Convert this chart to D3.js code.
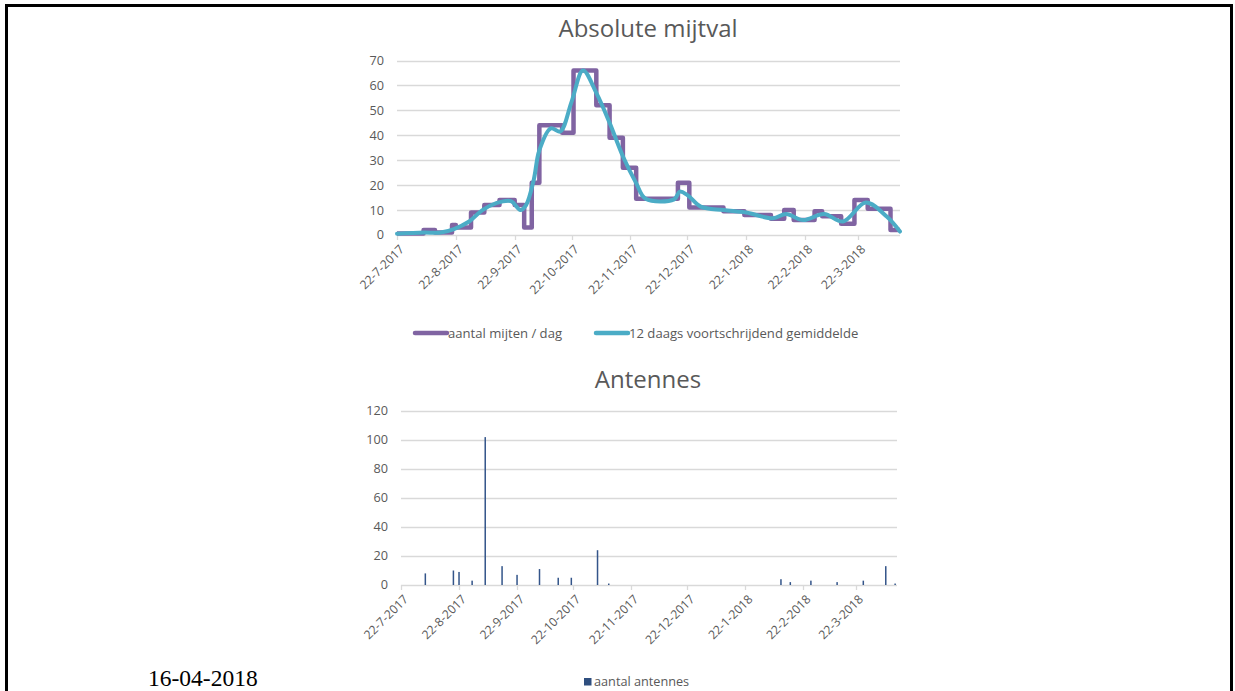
<!DOCTYPE html>
<html>
<head>
<meta charset="utf-8">
<script src="https://cdn.jsdelivr.net/npm/d3@7"></script>
<style>
	body { margin: 0; background: #fff; }
	svg { display: block; font-family: "Open Sans", Lato, sans-serif; }
</style>
</head>
<body>
<svg id="chart" width="1235" height="691"></svg>
<script>
// x-axis tick labels (shared by both charts)
const tickLabels = [ '22-7-2017', '22-8-2017', '22-9-2017', '22-10-2017', '22-11-2017', '22-12-2017', '22-1-2018', '22-2-2018', '22-3-2018' ];
const startDate = '2017-07-22',
	endDate = '2018-04-13';

// aantal mijten / dag : start date of each step and its value
const mijtDates = [ '2017-07-22', '2017-08-05', '2017-08-11', '2017-08-20', '2017-08-22', '2017-08-30', '2017-09-06', '2017-09-14', '2017-09-22', '2017-09-27', '2017-10-01', '2017-10-05', '2017-10-17', '2017-10-23', '2017-11-04', '2017-11-11', '2017-11-18', '2017-11-25', '2017-12-17', '2017-12-23', '2018-01-10', '2018-01-21', '2018-02-04', '2018-02-11', '2018-02-16', '2018-02-27', '2018-03-03', '2018-03-13', '2018-03-20', '2018-03-27', '2018-04-08', '2018-04-13' ];
const mijtValues = [ 0.6, 2, 1, 4, 3, 9, 12, 14, 12, 3, 21, 44, 41, 66, 52, 39, 27, 14.5, 21, 11, 9.5, 8, 6.5, 10, 6, 9.5, 7.5, 4.5, 14, 10.5, 2, 2 ];

// 12 daags voortschrijdend gemiddelde
const gemDates = [ '2017-07-22', '2017-08-05', '2017-08-14', '2017-08-21', '2017-08-29', '2017-09-05', '2017-09-12', '2017-09-20', '2017-09-25', '2017-09-28', '2017-10-02', '2017-10-05', '2017-10-11', '2017-10-16', '2017-10-22', '2017-10-28', '2017-11-04', '2017-11-11', '2017-11-18', '2017-11-25', '2017-11-30', '2017-12-15', '2017-12-18', '2017-12-22', '2017-12-29', '2018-01-10', '2018-01-22', '2018-02-05', '2018-02-12', '2018-02-21', '2018-03-04', '2018-03-14', '2018-03-26', '2018-04-06', '2018-04-13' ];
const gemValues = [ 0.5, 1, 1, 2.4, 5.4, 10, 12.7, 13.6, 10, 12, 22, 34, 42.8, 41.5, 53.5, 66, 57, 45, 31.6, 20.8, 14.5, 14.3, 17.4, 16, 11.4, 10, 9, 6.7, 8.4, 6, 8.4, 5.4, 13, 7.4, 1.4 ];

// aantal antennes
const antDates = [ '2017-08-04', '2017-08-19', '2017-08-22', '2017-08-29', '2017-09-05', '2017-09-14', '2017-09-22', '2017-10-04', '2017-10-14', '2017-10-21', '2017-11-04', '2017-11-10', '2018-02-10', '2018-02-15', '2018-02-26', '2018-03-12', '2018-03-26', '2018-04-07', '2018-04-12' ];
const antValues = [ 8, 10, 9, 3, 102, 13, 7, 11, 5, 5, 24, 1, 4, 2, 3, 2, 3, 13, 1 ];

const mijtTicks = [ 0, 10, 20, 30, 40, 50, 60, 70 ];
const antTicks = [ 0, 20, 40, 60, 80, 100, 120 ];

const parseIso = d3.timeParse( '%Y-%m-%d' ),
	parseTick = d3.timeParse( '%d-%m-%Y' ),
	grey = '#595959',
	gridColour = '#d9d9d9',
	labelSize = '12.7px',
	svg = d3.select( '#chart' );

svg.append( 'rect' )
	.attr( 'x', 6.5 ).attr( 'y', 5.5 )
	.attr( 'width', 1225 ).attr( 'height', 720 )
	.attr( 'fill', 'none' )
	.attr( 'stroke', '#000' )
	.attr( 'stroke-width', 3 );

// draws title, grid, y labels and date axis; returns scales
function frame( opts ) {
	const x = d3.scaleTime()
			.domain( [ parseIso( startDate ), parseIso( endDate ) ] )
			.range( [ opts.left, opts.right ] ),
		y = d3.scaleLinear()
			.domain( d3.extent( opts.ticks ) )
			.range( [ opts.bottom, opts.top ] ),
		g = svg.append( 'g' );

	g.append( 'text' )
		.attr( 'x', opts.titleX )
		.attr( 'y', opts.titleY )
		.attr( 'text-anchor', 'middle' )
		.style( 'font-size', '24px' )
		.style( 'fill', grey )
		.text( opts.title );

	g.selectAll( 'line.grid' )
		.data( opts.ticks )
		.join( 'line' )
		.attr( 'class', 'grid' )
		.attr( 'x1', opts.left ).attr( 'x2', opts.right )
		.attr( 'y1', ( d ) => Math.round( y( d ) ) + 0.5 )
		.attr( 'y2', ( d ) => Math.round( y( d ) ) + 0.5 )
		.attr( 'stroke', gridColour )
		.attr( 'stroke-width', 1.3 );

	g.selectAll( 'text.ylab' )
		.data( opts.ticks )
		.join( 'text' )
		.attr( 'class', 'ylab' )
		.attr( 'x', opts.left - 13 )
		.attr( 'y', ( d ) => y( d ) )
		.attr( 'dy', '0.35em' )
		.attr( 'text-anchor', 'end' )
		.style( 'font-size', labelSize )
		.style( 'fill', grey )
		.text( ( d ) => d );

	const tickDates = tickLabels.map( ( t ) => parseTick( t ) );

	g.selectAll( 'line.xtick' )
		.data( tickDates )
		.join( 'line' )
		.attr( 'class', 'xtick' )
		.attr( 'x1', ( d ) => Math.round( x( d ) ) + 0.5 )
		.attr( 'x2', ( d ) => Math.round( x( d ) ) + 0.5 )
		.attr( 'y1', opts.bottom )
		.attr( 'y2', opts.bottom + 5 )
		.attr( 'stroke', gridColour )
		.attr( 'stroke-width', 1.3 );

	g.selectAll( 'text.xlab' )
		.data( tickLabels )
		.join( 'text' )
		.attr( 'class', 'xlab' )
		.attr( 'transform', ( d ) => `translate(${x( parseTick( d ) ) + 5},${opts.bottom + 12}) rotate(-45)` )
		.attr( 'text-anchor', 'end' )
		.attr( 'dy', '0.35em' )
		.style( 'font-size', '12.2px' )
		.style( 'fill', grey )
		.text( ( d ) => d );

	return { x, y, g };
}

// ---- Absolute mijtval ----
const mijtChart = frame( {
	title: 'Absolute mijtval', titleX: 648, titleY: 37,
	left: 397, right: 900, top: 60.5, bottom: 235, ticks: mijtTicks
} );

const mijtData = mijtDates.map( ( d, i ) => ( { date: parseIso( d ), value: mijtValues[ i ] } ) ),
	gemData = gemDates.map( ( d, i ) => ( { date: parseIso( d ), value: gemValues[ i ] } ) );

mijtChart.g.append( 'path' )
	.datum( mijtData )
	.attr( 'fill', 'none' )
	.attr( 'stroke', '#8064a2' )
	.attr( 'stroke-width', 4.5 )
	.attr( 'stroke-linejoin', 'round' )
	.attr( 'd', d3.line().curve( d3.curveStepAfter ).x( ( d ) => mijtChart.x( d.date ) ).y( ( d ) => mijtChart.y( d.value ) ) );

mijtChart.g.append( 'path' )
	.datum( gemData )
	.attr( 'fill', 'none' )
	.attr( 'stroke', '#4bacc6' )
	.attr( 'stroke-width', 4 )
	.attr( 'stroke-linecap', 'round' )
	.attr( 'd', d3.line().curve( d3.curveCatmullRom.alpha( 0.5 ) ).x( ( d ) => mijtChart.x( d.date ) ).y( ( d ) => mijtChart.y( d.value ) ) );

const legendTop = [
	{ label: 'aantal mijten / dag', colour: '#8064a2', x: 415 },
	{ label: '12 daags voortschrijdend gemiddelde', colour: '#4bacc6', x: 596 }
];
const lg = mijtChart.g.selectAll( 'g.legend' )
	.data( legendTop )
	.join( 'g' )
	.attr( 'class', 'legend' )
	.attr( 'transform', ( d ) => `translate(${d.x},333)` );
lg.append( 'line' )
	.attr( 'x1', 0 ).attr( 'x2', 32 )
	.attr( 'stroke', ( d ) => d.colour )
	.attr( 'stroke-width', 4.5 )
	.attr( 'stroke-linecap', 'round' );
lg.append( 'text' )
	.attr( 'x', 33 )
	.attr( 'dy', '0.35em' )
	.style( 'font-size', '13.1px' )
	.style( 'fill', grey )
	.text( ( d ) => d.label );

// ---- Antennes ----
const antChart = frame( {
	title: 'Antennes', titleX: 648, titleY: 388,
	left: 401, right: 897, top: 411, bottom: 585, ticks: antTicks
} );

antChart.g.selectAll( 'rect.bar' )
	.data( antDates.map( ( d, i ) => ( { date: parseIso( d ), value: antValues[ i ] } ) ) )
	.join( 'rect' )
	.attr( 'class', 'bar' )
	.attr( 'x', ( d ) => antChart.x( d.date ) - 0.75 )
	.attr( 'width', 1.5 )
	.attr( 'y', ( d ) => antChart.y( d.value ) )
	.attr( 'height', ( d ) => antChart.y( 0 ) - antChart.y( d.value ) )
	.attr( 'fill', '#34558a' );

const lb = antChart.g.append( 'g' ).attr( 'transform', 'translate(584,682)' );
lb.append( 'rect' )
	.attr( 'x', 0 ).attr( 'y', -4 )
	.attr( 'width', 7.5 ).attr( 'height', 7.5 )
	.attr( 'fill', '#2f4f7f' );
lb.append( 'text' )
	.attr( 'x', 10 )
	.attr( 'dy', '0.35em' )
	.style( 'font-size', labelSize )
	.style( 'fill', grey )
	.text( 'aantal antennes' );

svg.append( 'text' )
	.attr( 'x', 148 )
	.attr( 'y', 686 )
	.style( 'font-family', '"Liberation Serif", "Times New Roman", serif' )
	.style( 'font-size', '23.5px' )
	.style( 'fill', '#000' )
	.text( '16-04-2018' );
</script>
</body>
</html>
